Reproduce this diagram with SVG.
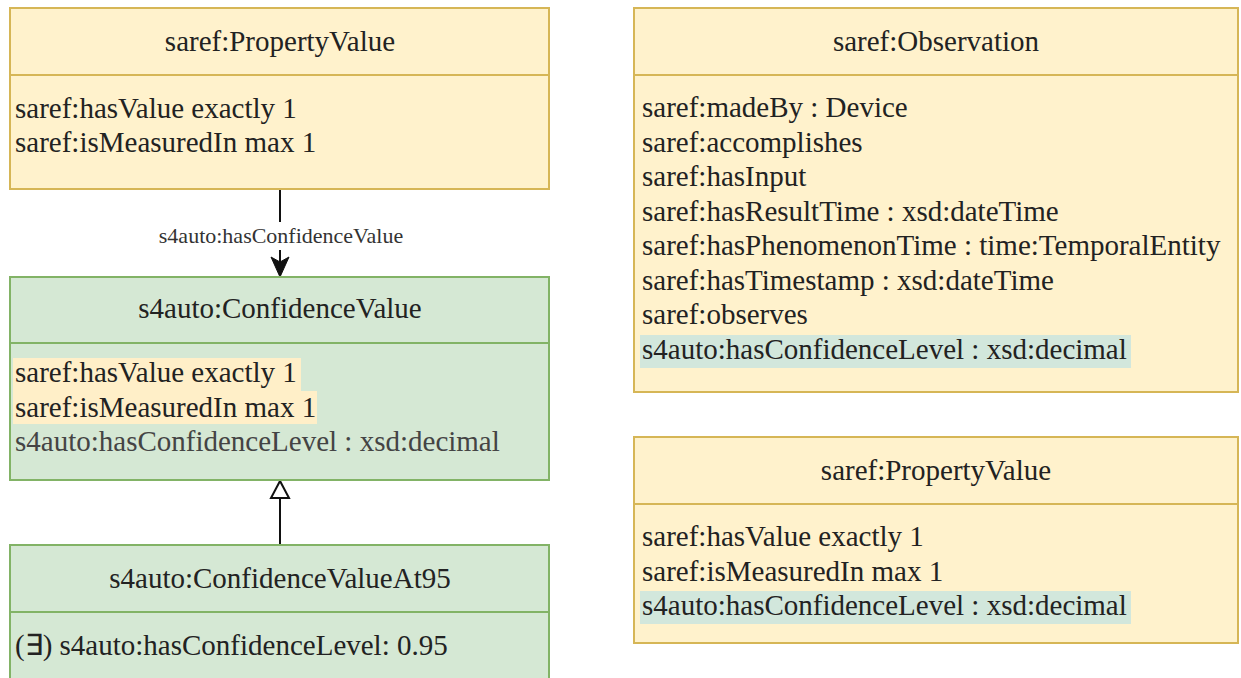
<svg xmlns="http://www.w3.org/2000/svg" width="1241" height="678" viewBox="0 0 1241 678" font-family="'Liberation Serif', 'Times New Roman', Times, serif">
<style>
.yel{fill:#fff2cc;stroke:#d6b656;stroke-width:2}
.grn{fill:#d5e8d4;stroke:#82b366;stroke-width:2}
.ydiv{stroke:#d6b656;stroke-width:2}
.gdiv{stroke:#82b366;stroke-width:2}
text{font-family:'Liberation Serif','Times New Roman',Times,serif;font-size:29px;fill:#222}
.hd{text-anchor:middle}
.dim{fill:#444}
.lbl{font-size:22px;text-anchor:middle;fill:#333}
.hly{fill:#ffefc8}
.hlg{fill:#d2e7dc}
.edge{stroke:#111;stroke-width:2;fill:none}
</style>
<rect width="1241" height="678" fill="#ffffff"/>

<g id="connectors">
<line class="edge" x1="280" y1="189" x2="280" y2="262"/>
<rect x="150" y="222" width="262" height="28" fill="#ffffff"/>
<text class="lbl" x="281" y="243">s4auto:hasConfidenceValue</text>
<path d="M280,277 L271,257 L280,262 L289,257 Z" fill="#111" stroke="#111" stroke-width="1"/>
<line class="edge" x1="280" y1="545" x2="280" y2="498"/>
<path d="M280,481 L271,498 L289,498 Z" fill="#ffffff" stroke="#111" stroke-width="2"/>
</g>

<g id="propertyValue1">
<rect class="yel" x="10" y="8" width="539" height="181"/>
<line class="ydiv" x1="10" y1="75" x2="549" y2="75"/>
<text class="hd" x="280" y="51">saref:PropertyValue</text>
<text x="15" y="118">saref:hasValue exactly 1</text>
<text x="15" y="152">saref:isMeasuredIn max 1</text>
</g>

<g id="confidenceValue">
<rect class="grn" x="10" y="277" width="539" height="203"/>
<line class="gdiv" x1="10" y1="343" x2="549" y2="343"/>
<text class="hd" x="280" y="318">s4auto:ConfidenceValue</text>
<rect class="hly" x="13" y="358" width="288" height="33"/>
<rect class="hly" x="13" y="391" width="304" height="33"/>
<text x="15" y="382">saref:hasValue exactly 1</text>
<text x="15" y="416.5">saref:isMeasuredIn max 1</text>
<text class="dim" x="15" y="451">s4auto:hasConfidenceLevel : xsd:decimal</text>
</g>

<g id="confidenceValueAt95">
<rect class="grn" x="10" y="545" width="539" height="150"/>
<line class="gdiv" x1="10" y1="612" x2="549" y2="612"/>
<text class="hd" x="280" y="588">s4auto:ConfidenceValueAt95</text>
<text x="15" y="655">(∃) s4auto:hasConfidenceLevel: 0.95</text>
</g>

<g id="observation">
<rect class="yel" x="634" y="8" width="604" height="384"/>
<line class="ydiv" x1="634" y1="75" x2="1238" y2="75"/>
<text class="hd" x="936" y="51">saref:Observation</text>
<text x="642" y="117">saref:madeBy : Device</text>
<text x="642" y="151.5">saref:accomplishes</text>
<text x="642" y="186">saref:hasInput</text>
<text x="642" y="220.5">saref:hasResultTime : xsd:dateTime</text>
<text x="642" y="255">saref:hasPhenomenonTime : time:TemporalEntity</text>
<text x="642" y="289.5">saref:hasTimestamp : xsd:dateTime</text>
<text x="642" y="324">saref:observes</text>
<rect class="hlg" x="640" y="335" width="491" height="33"/>
<text x="642" y="358.5">s4auto:hasConfidenceLevel : xsd:decimal</text>
</g>

<g id="propertyValue2">
<rect class="yel" x="634" y="437" width="604" height="206"/>
<line class="ydiv" x1="634" y1="504" x2="1238" y2="504"/>
<text class="hd" x="936" y="480">saref:PropertyValue</text>
<text x="642" y="546">saref:hasValue exactly 1</text>
<text x="642" y="580.5">saref:isMeasuredIn max 1</text>
<rect class="hlg" x="640" y="591" width="491" height="33"/>
<text x="642" y="615">s4auto:hasConfidenceLevel : xsd:decimal</text>
</g>
</svg>
